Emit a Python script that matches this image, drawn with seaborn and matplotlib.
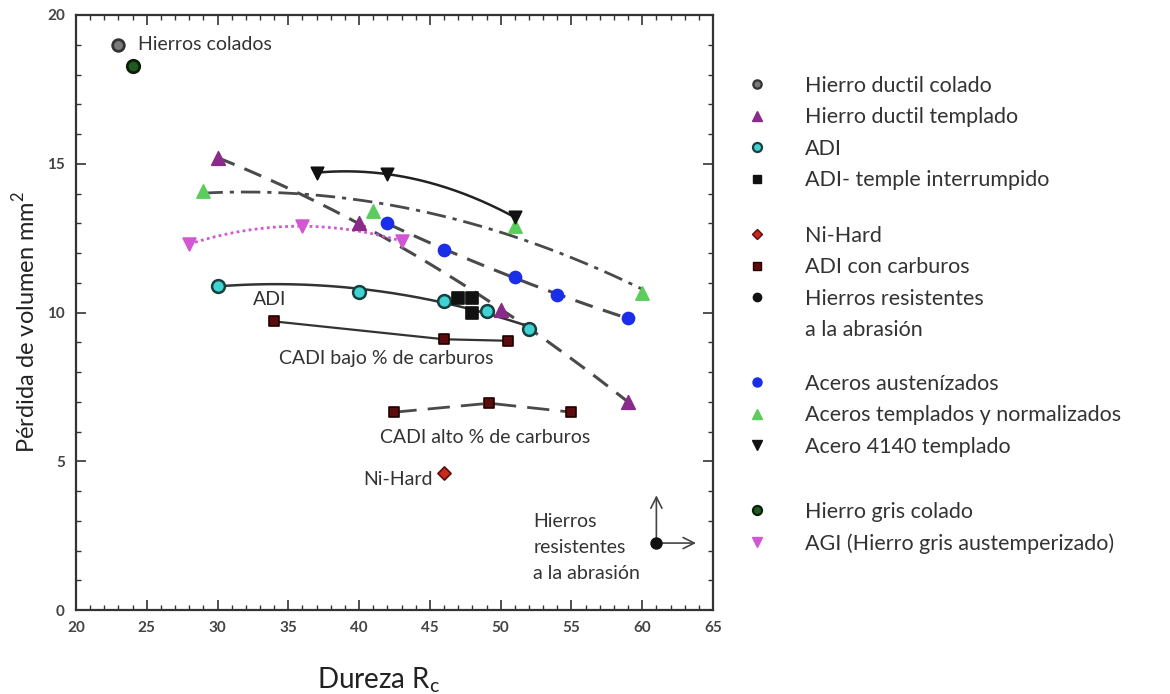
import numpy as np
import matplotlib
matplotlib.use("Agg")
import matplotlib.pyplot as plt
from matplotlib.lines import Line2D
from matplotlib.ticker import MultipleLocator
import seaborn as sns

# ---------------- data ----------------
hdc_x = [23]; hdc_y = [19.0]                       # Hierro ductil colado
hgc_x = [24]; hgc_y = [18.3]                       # Hierro gris colado
hdt_x = [30, 40, 50, 59]; hdt_y = [15.2, 13.0, 10.1, 7.0]   # Hierro ductil templado
adi_x = [30, 40, 46, 49, 52]; adi_y = [10.9, 10.7, 10.4, 10.05, 9.45]
adit_x = [47, 48, 48]; adit_y = [10.5, 10.5, 10.0]  # ADI temple interrumpido
nih_x = [46]; nih_y = [4.6]                         # Ni-Hard
cadib_x = [34, 46, 50.5]; cadib_y = [9.7, 9.1, 9.05]  # CADI bajo % carburos
cadia_x = [42.5, 49.2, 55]; cadia_y = [6.65, 6.95, 6.65]  # CADI alto % carburos
hra_x = [61]; hra_y = [2.25]                        # Hierros resistentes a la abrasion
aus_x = [42, 46, 51, 54, 59]; aus_y = [13.0, 12.1, 11.2, 10.6, 9.8]  # Aceros austenizados
atn_x = [29, 41, 51, 60]; atn_y = [14.1, 13.4, 12.9, 10.65]           # Aceros templados y normalizados
a41_x = [37, 42, 51]; a41_y = [14.7, 14.65, 13.2]                     # Acero 4140 templado
agi_x = [28, 36, 43]; agi_y = [12.3, 12.9, 12.4]                      # AGI

x_ticks = [20, 25, 30, 35, 40, 45, 50, 55, 60, 65]
y_ticks = [0, 5, 10, 15, 20]

legend_groups = [
    ["Hierro ductil colado", "Hierro ductil templado", "ADI", "ADI- temple interrumpido"],
    ["Ni-Hard", "ADI con carburos", "Hierros resistentes", "a la abrasión"],
    ["Aceros austenízados", "Aceros templados y normalizados", "Acero 4140 templado"],
    ["Hierro gris colado", "AGI (Hierro gris austemperizado)"],
]

# ---------------- style ----------------
sns.set_theme(style="ticks")
plt.rcParams['font.family'] = ['Lato', 'DejaVu Sans']

C_GRAY = "#7a7a7a"
C_GREEN_D = "#1f5a1f"
C_PURPLE = "#8a2a8a"
C_CYAN = "#3fd3d3"
C_BLACK = "#111111"
C_DRED = "#5a0c0c"
C_RED = "#c8281e"
C_BLUE = "#1a2ee8"
C_LGREEN = "#5ccc5c"
C_PINK = "#d257d2"
C_LINE = "#4a4a4a"
TXT = "#333333"

fig = plt.figure(figsize=(11.7, 6.94), dpi=100)
ax = fig.add_axes([76/1170, 1-610/694, (713-76)/1170, (610-15)/694])


def fit_curve(xs, ys, deg=2):
    c = np.polyfit(xs, ys, deg)
    g = np.linspace(min(xs), max(xs), 200)
    return g, np.polyval(c, g)


# curves
g, f = fit_curve(hdt_x, hdt_y)
sns.lineplot(x=g, y=f, ax=ax, color=C_LINE, lw=2.2, linestyle=(0, (6, 3.5)), sort=False, zorder=2)
g, f = fit_curve(aus_x, aus_y)
sns.lineplot(x=g, y=f, ax=ax, color=C_LINE, lw=2.2, linestyle=(0, (6, 3.5)), sort=False, zorder=2)
g, f = fit_curve(atn_x, atn_y)
sns.lineplot(x=g, y=f, ax=ax, color=C_LINE, lw=2.0, linestyle=(0, (7, 2.5, 1.5, 2.5)), sort=False, zorder=2)
g, f = fit_curve(a41_x, a41_y)
sns.lineplot(x=g, y=f, ax=ax, color="#222222", lw=1.8, sort=False, zorder=2)
g, f = fit_curve(agi_x, agi_y)
sns.lineplot(x=g, y=f, ax=ax, color=C_PINK, lw=2.0, linestyle=(0, (1, 1.2)), sort=False, zorder=2)
g, f = fit_curve(adi_x, adi_y)
sns.lineplot(x=g, y=f, ax=ax, color="#333333", lw=1.8, sort=False, zorder=2)
sns.lineplot(x=cadib_x, y=cadib_y, ax=ax, color="#333333", lw=1.6, sort=False, zorder=2)
sns.lineplot(x=cadia_x, y=cadia_y, ax=ax, color=C_LINE, lw=2.0, linestyle=(0, (8, 4)), sort=False, zorder=2)

# markers
def sc(xs, ys, marker, s, fc, ec, lw=1.2):
    sns.scatterplot(x=xs, y=ys, ax=ax, marker=marker, s=s, color=fc, edgecolor=ec, linewidth=lw, zorder=4)

sc(hdc_x, hdc_y, "o", 70, C_GRAY, "#333333", 2.0)
sc(hgc_x, hgc_y, "o", 80, C_GREEN_D, "#0a1f0a", 2.0)
sc(hdt_x, hdt_y, "^", 95, C_PURPLE, C_PURPLE)
sc(adi_x, adi_y, "o", 85, C_CYAN, "#1a3f3f", 1.8)
sc(adit_x, adit_y, "s", 65, C_BLACK, C_BLACK)
sc(nih_x, nih_y, "D", 45, C_RED, "#5a0c0c", 1.2)
sc(cadib_x, cadib_y, "s", 60, C_DRED, "#220000")
sc(cadia_x, cadia_y, "s", 60, C_DRED, "#220000")
sc(aus_x, aus_y, "o", 75, C_BLUE, C_BLUE)
sc(atn_x, atn_y, "^", 90, C_LGREEN, C_LGREEN)
sc(a41_x, a41_y, "v", 80, C_BLACK, C_BLACK)
sc(agi_x, agi_y, "v", 85, C_PINK, C_PINK)
sc(hra_x, hra_y, "o", 60, C_BLACK, C_BLACK)

# arrows from abrasion-resistant iron point
ax.annotate("", xy=(hra_x[0], hra_y[0] + 1.7), xytext=(hra_x[0], hra_y[0]),
            arrowprops=dict(arrowstyle="->", color="#444444", lw=1.2, mutation_scale=20), zorder=3)
ax.annotate("", xy=(hra_x[0] + 3.0, hra_y[0]), xytext=(hra_x[0], hra_y[0]),
            arrowprops=dict(arrowstyle="->", color="#444444", lw=1.2, mutation_scale=20), zorder=3)

# annotations
fs = 14
ax.text(24.4, 19.0, "Hierros colados", fontsize=fs, color=TXT, va="center", ha="left")
ax.text(33.7, 10.45, "ADI", fontsize=fs, color=TXT, va="center", ha="center")
ax.text(41.9, 8.45, "CADI bajo % de carburos", fontsize=fs, color=TXT, va="center", ha="center")
ax.text(48.9, 5.8, "CADI alto % de carburos", fontsize=fs, color=TXT, va="center", ha="center")
ax.text(45.2, 4.4, "Ni-Hard", fontsize=fs, color=TXT, va="center", ha="right")
ax.text(52.3, 2.1, "Hierros\nresistentes\na la abrasión", fontsize=fs, color=TXT,
        va="center", ha="left", linespacing=1.65)

# axes
ax.set_xlim(20, 65)
ax.set_ylim(0, 20)
ax.set_xticks(x_ticks)
ax.set_yticks(y_ticks)
ax.xaxis.set_minor_locator(MultipleLocator(1))
ax.yaxis.set_minor_locator(MultipleLocator(1))
ax.tick_params(which="both", direction="in", top=True, right=True, colors="#333333",
               labelsize=11, labelcolor="#444444")
ax.tick_params(which="major", length=7, width=1.2, pad=8)
ax.tick_params(which="minor", length=3.5, width=1.0)
for lab in ax.get_xticklabels() + ax.get_yticklabels():
    lab.set_fontweight("bold")
for sp in ax.spines.values():
    sp.set_visible(True)
    sp.set_linewidth(1.6)
    sp.set_color("#333333")
ax.set_xlabel("Dureza R$_\\mathregular{c}$", fontsize=20, color="#222222")
ax.xaxis.set_label_coords((379-76)/(713-76), -(680-610)/595, transform=ax.transAxes)
ax.set_ylabel("Pérdida de volumen mm$^\\mathregular{2}$", fontsize=17, color="#222222")
ax.yaxis.set_label_coords(-(76-25)/(713-76), (610-322)/595, transform=ax.transAxes)
ax.xaxis.label.set_va("center")
ax.yaxis.label.set_va("center")

# legends
handles = {
    "Hierro ductil colado": dict(marker="o", mfc=C_GRAY, mec="#333333", ms=6, mew=1.6),
    "Hierro ductil templado": dict(marker="^", mfc=C_PURPLE, mec=C_PURPLE, ms=6.5),
    "ADI": dict(marker="o", mfc=C_CYAN, mec="#1a3f3f", ms=6.5, mew=1.6),
    "ADI- temple interrumpido": dict(marker="s", mfc=C_BLACK, mec=C_BLACK, ms=6),
    "Ni-Hard": dict(marker="D", mfc=C_RED, mec="#5a0c0c", ms=5.5),
    "ADI con carburos": dict(marker="s", mfc=C_DRED, mec="#220000", ms=6),
    "Hierros resistentes": dict(marker="o", mfc=C_BLACK, mec=C_BLACK, ms=6),
    "a la abrasión": dict(marker="None"),
    "Aceros austenízados": dict(marker="o", mfc=C_BLUE, mec=C_BLUE, ms=6.5),
    "Aceros templados y normalizados": dict(marker="^", mfc=C_LGREEN, mec=C_LGREEN, ms=6.5),
    "Acero 4140 templado": dict(marker="v", mfc=C_BLACK, mec=C_BLACK, ms=6.5),
    "Hierro gris colado": dict(marker="o", mfc=C_GREEN_D, mec="#0a1f0a", ms=6.5, mew=1.6),
    "AGI (Hierro gris austemperizado)": dict(marker="v", mfc=C_PINK, mec=C_PINK, ms=6.5),
}
tops = [76, 226, 374, 502]
for grp, top in zip(legend_groups, tops):
    hs = [Line2D([], [], linestyle="None", **handles[lab]) for lab in grp]
    leg = fig.legend(hs, grp, loc="upper left", bbox_to_anchor=(746/1170, 1-top/694),
                     frameon=False, fontsize=15.5, handlelength=1.0, handletextpad=1.74,
                     labelspacing=0.53, borderpad=0, borderaxespad=0)
    for t in leg.get_texts():
        t.set_color(TXT)

fig.savefig("out.png", dpi=100)
